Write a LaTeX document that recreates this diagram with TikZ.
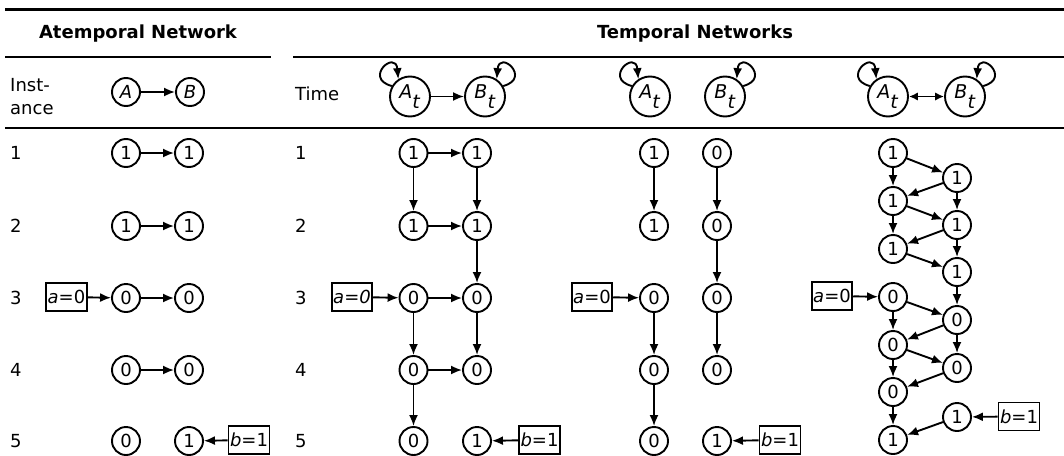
\documentclass[tikz,border=0pt]{standalone}
\usepackage{fontspec}
\setmainfont{DejaVu Sans}
\usetikzlibrary{arrows.meta}
% variable with a lowered, full-size subscript
\newcommand\subvar[2]{\textit{#1}\raisebox{-0.5em}{\textit{#2}}}
\begin{document}
\begin{tikzpicture}[x=1pt,y=-1pt,
  every node/.style={font=\fontsize{18}{23}\selectfont},
  st/.style={circle,draw,line width=1.9pt,minimum size=28pt,inner sep=0pt},
  hst/.style={circle,draw,line width=1.9pt,minimum size=40pt,inner sep=0pt,
    font=\fontsize{19}{23}\selectfont},
  ev/.style={draw,line width=1.9pt,minimum height=28pt,inner xsep=1.5pt,inner ysep=0pt},
  arr/.style={line width=1.9pt,-{Latex[length=11pt,width=9pt]}},
  darr/.style={line width=1.9pt,{Latex[length=9pt,width=8.5pt]}-{Latex[length=9pt,width=8.5pt]}},
  lbl/.style={anchor=west,inner sep=0pt,align=left},
  head/.style={font=\fontsize{18}{23}\selectfont\bfseries},
]
\useasboundingbox (0,0) rectangle (1064,455);

% table rules
\draw[line width=3pt] (5,9) -- (1064,9);
\draw[line width=2.2pt] (5,57) -- (271,57);
\draw[line width=2.2pt] (293,57) -- (1064,57);
\draw[line width=2.6pt] (5,128) -- (1064,128);

% column headings
\node[head] (hatemp) at (138,34) {Atemporal Network};
\node[head] (htemp) at (695,34) {Temporal Networks};

% ---------- atemporal network ----------
\node[lbl] (inst) at (10,96.5) {Inst-\\ance};
\node[st] (hA) at (126,92) {\textit{A}};
\node[st] (hB) at (190,92) {\textit{B}};
\draw[arr] (hA) -- (hB);

\node[lbl] (pa1) at (10,153) {1};
\node[lbl] (pa2) at (10,226) {2};
\node[lbl] (pa3) at (10,298) {3};
\node[lbl] (pa4) at (10,370) {4};
\node[lbl] (pa5) at (10,441) {5};

\node[st] (pA1) at (126,153) {1};
\node[st] (pB1) at (189,153) {1};
\node[st] (pA2) at (126,226) {1};
\node[st] (pB2) at (189,226) {1};
\node[ev] (pev3) at (66.5,297) {\textit{a}=0};
\node[st] (pA3) at (126,298) {0};
\node[st] (pB3) at (189,298) {0};
\node[st] (pA4) at (126,370) {0};
\node[st] (pB4) at (189,370) {0};
\node[st] (pA5) at (126,441) {0};
\node[st] (pB5) at (189,441) {1};
\node[ev] (pev5) at (249,440) {\textit{b}=1};

\draw[arr] (pA1) -- (pB1);
\draw[arr] (pA2) -- (pB2);
\draw[arr] (pev3) -- (pA3);
\draw[arr] (pA3) -- (pB3);
\draw[arr] (pA4) -- (pB4);
\draw[arr] (pev5) -- (pB5);

% ---------- temporal: A -> B ----------
\node[lbl] (time) at (295,94) {Time};
\node[hst] (qAt) at (410,96.5) {\subvar{A}{t}};
\node[hst] (qBt) at (485,96.5) {\subvar{B}{t}};
\draw[arr] (qAt) -- (qBt);
\draw[arr] (qAt.150) .. controls +(165:30pt) and +(95:30pt) .. (qAt.124);
\draw[arr] (qBt.30) .. controls +(15:30pt) and +(85:30pt) .. (qBt.56);

\node[lbl] (qa1) at (295,153) {1};
\node[lbl] (qa2) at (295,226) {2};
\node[lbl] (qa3) at (295,298) {3};
\node[lbl] (qa4) at (295,370) {4};
\node[lbl] (qa5) at (295,441) {5};

\node[st] (qA1) at (413.5,153) {1};
\node[st] (qB1) at (477,153) {1};
\node[st] (qA2) at (413.5,226) {1};
\node[st] (qB2) at (477,226) {1};
\node[ev] (qev3) at (352,297) {\textit{a=0}};
\node[st] (qA3) at (413.5,298) {0};
\node[st] (qB3) at (477,298) {0};
\node[st] (qA4) at (413.5,370) {0};
\node[st] (qB4) at (477,370) {0};
\node[st] (qA5) at (413.5,441) {0};
\node[st] (qB5) at (477,441) {1};
\node[ev] (qev5) at (539.5,440) {\textit{b}=1};

\draw[arr] (qA1) -- (qB1);
\draw[arr] (qA1) -- (qA2);
\draw[arr] (qB1) -- (qB2);
\draw[arr] (qA2) -- (qB2);
\draw[arr] (qB2) -- (qB3);
\draw[arr] (qev3) -- (qA3);
\draw[arr] (qA3) -- (qB3);
\draw[arr] (qA3) -- (qA4);
\draw[arr] (qB3) -- (qB4);
\draw[arr] (qA4) -- (qB4);
\draw[arr] (qA4) -- (qA5);
\draw[arr] (qev5) -- (qB5);

% ---------- temporal: independent ----------
\node[hst] (rAt) at (650,96.5) {\subvar{A}{t}};
\node[hst] (rBt) at (725,96.5) {\subvar{B}{t}};
\draw[arr] (rAt.150) .. controls +(165:30pt) and +(95:30pt) .. (rAt.124);
\draw[arr] (rBt.30) .. controls +(15:30pt) and +(85:30pt) .. (rBt.56);

\node[st] (rA1) at (654,153) {1};
\node[st] (rB1) at (717,153) {0};
\node[st] (rA2) at (654,226) {1};
\node[st] (rB2) at (717,226) {0};
\node[ev] (rev3) at (592,297) {\textit{a}=0};
\node[st] (rA3) at (654,298) {0};
\node[st] (rB3) at (717,298) {0};
\node[st] (rA4) at (654,370) {0};
\node[st] (rB4) at (717,370) {0};
\node[st] (rA5) at (654,441) {0};
\node[st] (rB5) at (717,441) {1};
\node[ev] (rev5) at (780,440) {\textit{b}=1};

\draw[arr] (rA1) -- (rA2);
\draw[arr] (rB1) -- (rB2);
\draw[arr] (rB2) -- (rB3);
\draw[arr] (rev3) -- (rA3);
\draw[arr] (rA3) -- (rA4);
\draw[arr] (rB3) -- (rB4);
\draw[arr] (rA4) -- (rA5);
\draw[arr] (rev5) -- (rB5);

% ---------- temporal: mutual influence ----------
\node[hst] (sAt) at (888,96.5) {\subvar{A}{t}};
\node[hst] (sBt) at (965,96.5) {\subvar{B}{t}};
\draw[darr] (sAt) -- (sBt);
\draw[arr] (sAt.150) .. controls +(165:30pt) and +(95:30pt) .. (sAt.124);
\draw[arr] (sBt.30) .. controls +(15:30pt) and +(85:30pt) .. (sBt.56);

\node[st] (sL1) at (893,153) {1};
\node[st] (sL2) at (893,201) {1};
\node[st] (sL3) at (893,249) {1};
\node[st] (sL4) at (893,297) {0};
\node[st] (sL5) at (893,345) {0};
\node[st] (sL6) at (893,392) {0};
\node[st] (sL7) at (893,440) {1};
\node[st] (sR1) at (957,178) {1};
\node[st] (sR2) at (957,225) {1};
\node[st] (sR3) at (957,272) {1};
\node[st] (sR4) at (957,320) {0};
\node[st] (sR5) at (957,368) {0};
\node[st] (sR6) at (957,417) {1};
\node[ev] (sev3) at (832,296) {\textit{a}=0};
\node[ev] (sev5) at (1019,416.5) {\textit{b}=1};

\draw[arr] (sL1) -- (sL2);
\draw[arr] (sL1) -- (sR1);
\draw[arr] (sR1) -- (sL2);
\draw[arr] (sR1) -- (sR2);
\draw[arr] (sL2) -- (sL3);
\draw[arr] (sL2) -- (sR2);
\draw[arr] (sR2) -- (sL3);
\draw[arr] (sR2) -- (sR3);
\draw[arr] (sL3) -- (sR3);
\draw[arr] (sR3) -- (sR4);
\draw[arr] (sev3) -- (sL4);
\draw[arr] (sL4) -- (sL5);
\draw[arr] (sL4) -- (sR4);
\draw[arr] (sR4) -- (sL5);
\draw[arr] (sR4) -- (sR5);
\draw[arr] (sL5) -- (sL6);
\draw[arr] (sL5) -- (sR5);
\draw[arr] (sR5) -- (sL6);
\draw[arr] (sL6) -- (sL7);
\draw[arr] (sR6) -- (sL7);
\draw[arr] (sev5) -- (sR6);
\end{tikzpicture}
\end{document}
